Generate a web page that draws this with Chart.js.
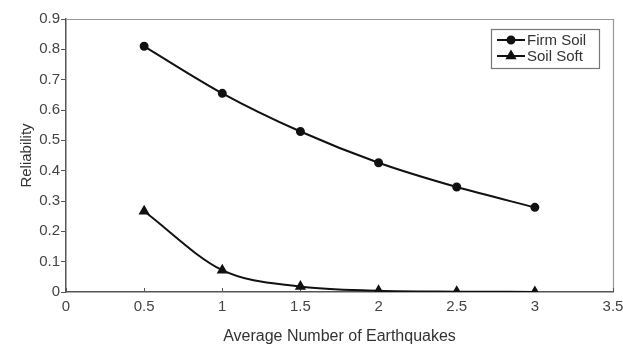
<!DOCTYPE html>
<html>
<head>
<meta charset="utf-8">
<script src="https://cdn.jsdelivr.net/npm/chart.js@4/dist/chart.umd.min.js"></script>
<style>
  html, body { margin: 0; padding: 0; background: #fff; }
  #wrap { width: 623px; height: 349px; position: relative; }
</style>
</head>
<body>
<div id="wrap"><canvas id="c"></canvas></div>
<script>
// ── Data ─────────────────────────────────────────────
const quakes   = [0.5, 1, 1.5, 2, 2.5, 3];
const firmSoil = [0.81, 0.655, 0.529, 0.426, 0.346, 0.279];
const softSoil = [0.266, 0.072, 0.018, 0.004, 0.001, 0.0003];
const xTicks   = [0, 0.5, 1, 1.5, 2, 2.5, 3, 3.5];
const yTicks   = [0, 0.1, 0.2, 0.3, 0.4, 0.5, 0.6, 0.7, 0.8, 0.9];

const FONT = "'Liberation Sans', Arial, sans-serif";
const INK  = '#111';
const AXIS = '#555';
const TXT  = '#444';

const pts = (ys) => quakes.map((x, i) => ({ x, y: ys[i] }));

// gray frame on top/right + inward x ticks
const framePlugin = {
  id: 'frame',
  beforeDatasetsDraw(chart) {
    const { ctx, chartArea: a, scales } = chart;
    ctx.save();
    ctx.strokeStyle = '#999';
    ctx.lineWidth = 1.2;
    ctx.beginPath();
    ctx.moveTo(a.left, a.top + 0.5);
    ctx.lineTo(a.right + 0.5, a.top + 0.5);
    ctx.lineTo(a.right + 0.5, a.bottom);
    ctx.stroke();
    ctx.strokeStyle = AXIS;
    ctx.lineWidth = 1;
    xTicks.forEach(v => {
      const px = Math.round(scales.x.getPixelForValue(v)) + 0.5;
      ctx.beginPath();
      ctx.moveTo(px, a.bottom);
      ctx.lineTo(px, a.bottom - 4);
      ctx.stroke();
    });
    ctx.restore();
  }
};

// legend box inside plot area
const boxLegend = {
  id: 'boxLegend',
  afterDraw(chart) {
    const { ctx } = chart;
    const x0 = 491, y0 = 29, w = 108, h = 39;
    ctx.save();
    ctx.fillStyle = '#fff';
    ctx.fillRect(x0, y0, w, h);
    ctx.strokeStyle = '#777';
    ctx.lineWidth = 1.2;
    ctx.strokeRect(x0 + 0.5, y0 + 0.5, w, h);
    chart.data.datasets.forEach((ds, i) => {
      const y = y0 + 11 + i * 16;
      ctx.strokeStyle = INK;
      ctx.lineWidth = 2;
      ctx.beginPath();
      ctx.moveTo(x0 + 6, y);
      ctx.lineTo(x0 + 34, y);
      ctx.stroke();
      ctx.fillStyle = INK;
      Chart.helpers.drawPoint(ctx, {
        pointStyle: ds.pointStyle, radius: ds.pointRadius, rotation: 0, borderWidth: 1
      }, x0 + 20, y);
      ctx.fillStyle = '#333';
      ctx.font = '15px ' + FONT;
      ctx.textBaseline = 'middle';
      ctx.fillText(ds.label, x0 + 36, y + 1);
    });
    ctx.restore();
  }
};

new Chart(document.getElementById('c'), {
  type: 'line',
  data: {
    datasets: [
      {
        label: 'Firm Soil',
        data: pts(firmSoil),
        borderColor: INK,
        backgroundColor: INK,
        borderWidth: 2,
        pointStyle: 'circle',
        pointRadius: 3.5,
        tension: 0.3,
      },
      {
        label: 'Soil Soft',
        data: pts(softSoil),
        borderColor: INK,
        backgroundColor: INK,
        borderWidth: 2,
        pointStyle: 'triangle',
        pointRadius: 4.5,
        cubicInterpolationMode: 'monotone',
      },
    ]
  },
  options: {
    responsive: true,
    maintainAspectRatio: false,
    devicePixelRatio: 1,
    animation: false,
    layout: { padding: { top: 19, right: 10, left: 0, bottom: 0 } },
    plugins: { legend: { display: false }, tooltip: { enabled: false } },
    scales: {
      x: {
        type: 'linear',
        min: 0, max: 3.5,
        afterBuildTicks: (s) => { s.ticks = xTicks.map(v => ({ value: v })); },
        afterFit: (s) => { s.height = 57; },
        grid: { display: false },
        border: { display: true, color: AXIS, width: 1.5 },
        ticks: {
          color: TXT, padding: -2,
          font: { family: FONT, size: 15 },
          maxRotation: 0,
          callback: (v) => String(v),
        },
        title: {
          display: true,
          text: 'Average Number of Earthquakes',
          color: '#333',
          font: { family: FONT, size: 16 },
          padding: { top: 0, bottom: 3 },
        },
      },
      y: {
        min: 0, max: 0.9,
        afterBuildTicks: (s) => { s.ticks = yTicks.map(v => ({ value: v })); },
        afterFit: (s) => { s.width = 66; },
        grid: { drawOnChartArea: false, drawTicks: true, tickLength: 5, color: AXIS, lineWidth: 1 },
        border: { display: true, color: AXIS, width: 1.5 },
        ticks: {
          color: TXT, padding: 1,
          font: { family: FONT, size: 15 },
          callback: (v) => String(Math.round(v * 10) / 10),
        },
        title: {
          display: true,
          text: 'Reliability',
          color: '#333',
          font: { family: FONT, size: 15 },
          padding: { top: 18, bottom: 0 },
        },
      }
    }
  },
  plugins: [framePlugin, boxLegend]
});
</script>
</body>
</html>
